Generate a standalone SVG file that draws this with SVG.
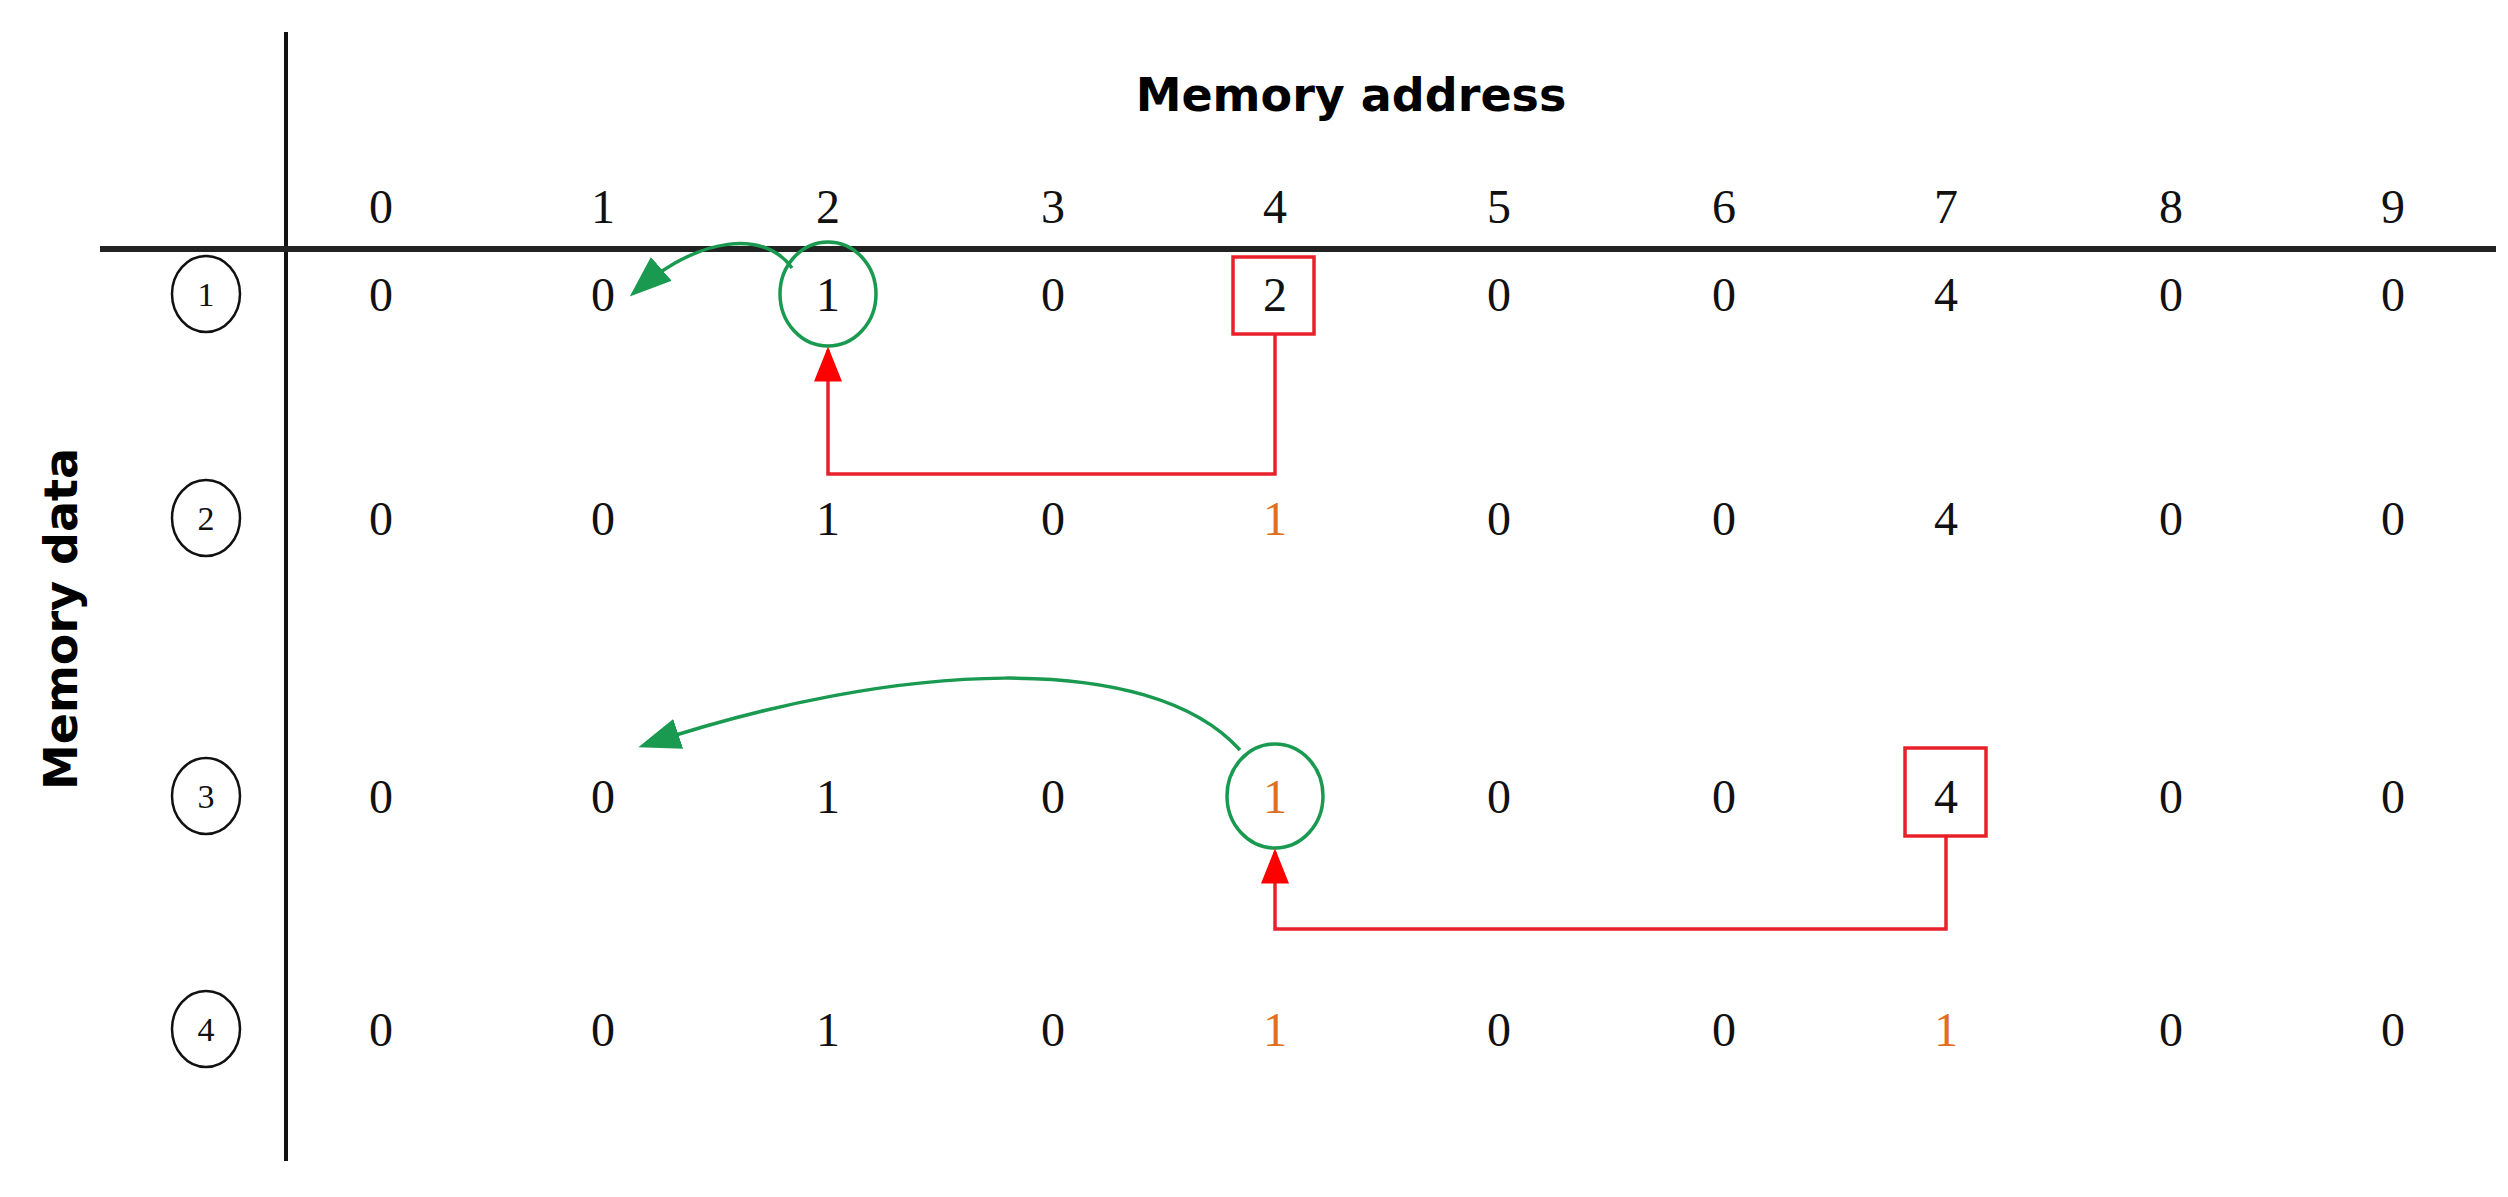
<svg xmlns="http://www.w3.org/2000/svg" width="2508" height="1197" viewBox="0 0 2508 1197">
<style>
.n{font-family:"Liberation Serif",serif;font-size:48px;fill:#111;text-anchor:middle;dominant-baseline:central}
.o{fill:#e07020}
.c{font-size:34px}
.h{font-family:"DejaVu Sans","Liberation Sans",sans-serif;font-weight:bold;font-size:46px;fill:#000;text-anchor:middle;dominant-baseline:central}
.rc{fill:none;stroke:#111;stroke-width:2.5}
.g{fill:none;stroke:#1a9a50;stroke-width:3.5}
.r{fill:none;stroke:#e8202a;stroke-width:3.5}
</style>
<defs>
<marker id="ag" markerWidth="12" markerHeight="9" refX="10" refY="4.5" orient="auto" markerUnits="strokeWidth"><path d="M0,0L12,4.5L0,9z" fill="#1a9a50"/></marker>
<marker id="ar" markerWidth="10" markerHeight="8" refX="9" refY="4" orient="auto" markerUnits="strokeWidth"><path d="M0,0L10,4L0,8z" fill="#ff0000"/></marker>
</defs>
<rect width="2508" height="1197" fill="#fff"/>
<g id="axes">
<line x1="286" y1="32" x2="286" y2="1161" stroke="#111" stroke-width="4"/>
<line x1="100" y1="249" x2="2496" y2="249" stroke="#222" stroke-width="6"/>
<text class="h" x="1351" y="95">Memory address</text>
<text class="h" transform="translate(61,619) rotate(-90)">Memory data</text>
</g>
<g id="header">
<text class="n" x="381" y="206">0</text><text class="n" x="603" y="206">1</text><text class="n" x="828" y="206">2</text><text class="n" x="1053" y="206">3</text><text class="n" x="1275" y="206">4</text><text class="n" x="1499" y="206">5</text><text class="n" x="1724" y="206">6</text><text class="n" x="1946" y="206">7</text><text class="n" x="2171" y="206">8</text><text class="n" x="2393" y="206">9</text>
</g>
<g id="row1">
<ellipse class="rc" cx="206" cy="294" rx="34" ry="38"/><text class="n c" x="206" y="294">1</text>
<text class="n" x="381" y="294">0</text><text class="n" x="603" y="294">0</text><text class="n" x="828" y="294">1</text><text class="n" x="1053" y="294">0</text><text class="n" x="1275" y="294">2</text><text class="n" x="1499" y="294">0</text><text class="n" x="1724" y="294">0</text><text class="n" x="1946" y="294">4</text><text class="n" x="2171" y="294">0</text><text class="n" x="2393" y="294">0</text>
</g>
<g id="row2">
<ellipse class="rc" cx="206" cy="518" rx="34" ry="38"/><text class="n c" x="206" y="518">2</text>
<text class="n" x="381" y="518">0</text><text class="n" x="603" y="518">0</text><text class="n" x="828" y="518">1</text><text class="n" x="1053" y="518">0</text><text class="n o" x="1275" y="518">1</text><text class="n" x="1499" y="518">0</text><text class="n" x="1724" y="518">0</text><text class="n" x="1946" y="518">4</text><text class="n" x="2171" y="518">0</text><text class="n" x="2393" y="518">0</text>
</g>
<g id="row3">
<ellipse class="rc" cx="206" cy="796" rx="34" ry="38"/><text class="n c" x="206" y="796">3</text>
<text class="n" x="381" y="796">0</text><text class="n" x="603" y="796">0</text><text class="n" x="828" y="796">1</text><text class="n" x="1053" y="796">0</text><text class="n o" x="1275" y="796">1</text><text class="n" x="1499" y="796">0</text><text class="n" x="1724" y="796">0</text><text class="n" x="1946" y="796">4</text><text class="n" x="2171" y="796">0</text><text class="n" x="2393" y="796">0</text>
</g>
<g id="row4">
<ellipse class="rc" cx="206" cy="1029" rx="34" ry="38"/><text class="n c" x="206" y="1029">4</text>
<text class="n" x="381" y="1029">0</text><text class="n" x="603" y="1029">0</text><text class="n" x="828" y="1029">1</text><text class="n" x="1053" y="1029">0</text><text class="n o" x="1275" y="1029">1</text><text class="n" x="1499" y="1029">0</text><text class="n" x="1724" y="1029">0</text><text class="n o" x="1946" y="1029">1</text><text class="n" x="2171" y="1029">0</text><text class="n" x="2393" y="1029">0</text>
</g>
<g id="highlights">
<ellipse class="g" cx="828" cy="294" rx="48" ry="52"/>
<rect class="r" x="1233" y="257" width="81" height="77"/>
<ellipse class="g" cx="1275" cy="796" rx="48" ry="52"/>
<rect class="r" x="1905" y="748" width="81" height="88"/>
</g>
<g id="connectors">
<path class="r" d="M1275,334V474H828V350" marker-end="url(#ar)"/>
<path class="r" d="M1946,836V929H1275V852" marker-end="url(#ar)"/>
<path class="g" d="M792,268C765,230 700,235 635,292" marker-end="url(#ag)"/>
<path class="g" d="M1240,750C1150,650 900,660 645,745" marker-end="url(#ag)"/>
</g>
</svg>
